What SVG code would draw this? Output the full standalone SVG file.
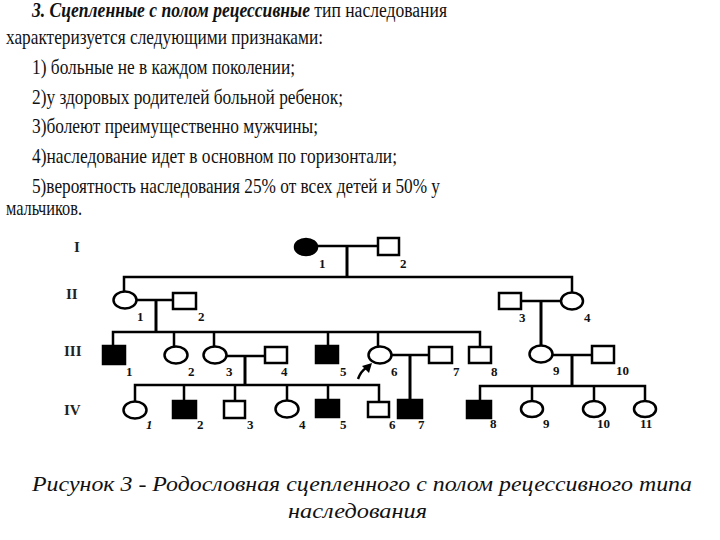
<svg xmlns="http://www.w3.org/2000/svg" width="720" height="540" viewBox="0 0 720 540">
<style>
.t{font-family:"Liberation Serif","DejaVu Serif",serif;font-size:22px;fill:#111}
.t1{font-size:20px}
.bi{font-weight:bold;font-style:italic}
.cap{font-family:"Liberation Serif","DejaVu Serif",serif;font-size:21px;font-style:italic;fill:#111}
.sym{fill:#fff;stroke:#000;stroke-width:2.5}
.aff{fill:#000;stroke:#000;stroke-width:2.5}
.ln{fill:none;stroke:#000;stroke-width:2.5}
.thk{fill:none;stroke:#000;stroke-width:3}
.lb{font-family:"Liberation Serif","DejaVu Serif",serif;font-size:13px;font-weight:bold;fill:#111}
.gen{font-family:"Liberation Serif","DejaVu Serif",serif;font-size:15px;font-weight:bold;fill:#222}
</style>
<rect width="720" height="540" fill="#fff"/>
<g id="text">
<text class="t t1" x="32" y="17" textLength="415" lengthAdjust="spacingAndGlyphs"><tspan class="bi">3. Сцепленные с полом рецессивные</tspan> тип наследования</text>
<text class="t" x="6" y="44" textLength="317" lengthAdjust="spacingAndGlyphs">характеризуется следующими признаками:</text>
<text class="t" x="32" y="74" textLength="263" lengthAdjust="spacingAndGlyphs">1) больные не в каждом поколении;</text>
<text class="t" x="32" y="104" textLength="311" lengthAdjust="spacingAndGlyphs">2)у здоровых родителей больной ребенок;</text>
<text class="t" x="32" y="133" textLength="286" lengthAdjust="spacingAndGlyphs">3)болеют преимущественно мужчины;</text>
<text class="t" x="32" y="163" textLength="365" lengthAdjust="spacingAndGlyphs">4)наследование идет в основном по горизонтали;</text>
<text class="t" x="32" y="193" textLength="408" lengthAdjust="spacingAndGlyphs">5)вероятность наследования 25% от всех детей и 50% у</text>
<text class="t" x="6" y="215" textLength="76" lengthAdjust="spacingAndGlyphs">мальчиков.</text>
</g>
<g id="generations">
<text class="gen" x="74" y="252">I</text>
<text class="gen" x="66" y="299">II</text>
<text class="gen" x="64" y="356">III</text>
<text class="gen" x="64" y="415">IV</text>
</g>
<g id="connectors">
<path class="ln" d="M317.5 246H378"/>
<path class="thk" d="M347 246V277"/>
<path class="ln" d="M124 291.5V277H572V292.5"/>
<path class="ln" d="M136.5 300H173"/>
<path class="thk" d="M156 300V332"/>
<path class="ln" d="M113 346V332H480V347M174 332V346.5M214 332V346.5M328 332V345M378 332V346.5"/>
<path class="ln" d="M521 301H560.5"/>
<path class="thk" d="M541 301V345.5"/>
<path class="ln" d="M226.5 356H265"/>
<path class="thk" d="M245 356V385"/>
<path class="ln" d="M135 401.5V385H379V402M184 385V401M235 385V401M287 385V400.5M328 385V400"/>
<path class="ln" d="M391.5 355H429"/>
<path class="thk" d="M410 355V400"/>
<path class="ln" d="M552.5 355H592"/>
<path class="thk" d="M572 355V386"/>
<path class="ln" d="M480 401V386H645V400.5M532 386V400.5M594 386V400.5"/>
</g>
<g id="proband-arrow">
<path d="M358 379Q361 371 366 368" fill="none" stroke="#000" stroke-width="2.5"/>
<polygon points="372,363 362,366 369,373" fill="#000"/>
</g>
<g id="I-1"><ellipse class="aff" cx="306" cy="247" rx="11" ry="8"/><text class="lb" x="319" y="268">1</text></g>
<g id="I-2"><rect class="sym" x="378" y="238" width="21" height="17"/><text class="lb" x="400" y="268">2</text></g>
<g id="II-1"><ellipse class="sym" cx="125" cy="300" rx="11.5" ry="8.5"/><text class="lb" x="137" y="321">1</text></g>
<g id="II-2"><rect class="sym" x="173" y="293" width="23" height="16"/><text class="lb" x="198" y="321">2</text></g>
<g id="II-3"><rect class="sym" x="499" y="293" width="22" height="16"/><text class="lb" x="519" y="322">3</text></g>
<g id="II-4"><ellipse class="sym" cx="572" cy="301" rx="11" ry="8.5"/><text class="lb" x="584" y="322">4</text></g>
<g id="III-1"><rect class="aff" x="103" y="346" width="22" height="18"/><text class="lb" x="126" y="376">1</text></g>
<g id="III-2"><ellipse class="sym" cx="176" cy="355" rx="11.5" ry="8.5"/><text class="lb" x="188" y="376">2</text></g>
<g id="III-3"><ellipse class="sym" cx="215" cy="355" rx="11.5" ry="8.5"/><text class="lb" x="226" y="376">3</text></g>
<g id="III-4"><rect class="sym" x="265" y="347" width="22" height="16"/><text class="lb" x="281" y="376">4</text></g>
<g id="III-5"><rect class="aff" x="316" y="346" width="22" height="17"/><text class="lb" x="340" y="376">5</text></g>
<g id="III-6"><ellipse class="sym" cx="380" cy="355" rx="11.5" ry="8.5"/><text class="lb" x="391" y="376">6</text></g>
<g id="III-7"><rect class="sym" x="429" y="347" width="23" height="16"/><text class="lb" x="453" y="376">7</text></g>
<g id="III-8"><rect class="sym" x="469" y="347" width="22" height="16"/><text class="lb" x="491" y="376">8</text></g>
<g id="III-9"><ellipse class="sym" cx="541" cy="354" rx="11.5" ry="8.5"/><text class="lb" x="553" y="375">9</text></g>
<g id="III-10"><rect class="sym" x="592" y="346" width="22" height="17"/><text class="lb" x="616" y="375">10</text></g>
<g id="IV-1"><ellipse class="sym" cx="135" cy="410" rx="11.5" ry="8.5"/><text class="lb" x="146" y="429" font-style="italic">1</text></g>
<g id="IV-2"><rect class="aff" x="173" y="401" width="23" height="17"/><text class="lb" x="197" y="429">2</text></g>
<g id="IV-3"><rect class="sym" x="224" y="401" width="21" height="17"/><text class="lb" x="247" y="429">3</text></g>
<g id="IV-4"><ellipse class="sym" cx="287" cy="409" rx="11.5" ry="8.5"/><text class="lb" x="299" y="429">4</text></g>
<g id="IV-5"><rect class="aff" x="316" y="400" width="23" height="17"/><text class="lb" x="340" y="429">5</text></g>
<g id="IV-6"><rect class="sym" x="368" y="402" width="21" height="15"/><text class="lb" x="389" y="429">6</text></g>
<g id="IV-7"><rect class="aff" x="398" y="400" width="24" height="18"/><text class="lb" x="418" y="429">7</text></g>
<g id="IV-8"><rect class="aff" x="467" y="401" width="24" height="17"/><text class="lb" x="490" y="428">8</text></g>
<g id="IV-9"><ellipse class="sym" cx="532" cy="409" rx="11" ry="8"/><text class="lb" x="543" y="428">9</text></g>
<g id="IV-10"><ellipse class="sym" cx="594" cy="409" rx="11" ry="8"/><text class="lb" x="597" y="428">10</text></g>
<g id="IV-11"><ellipse class="sym" cx="645" cy="409" rx="11" ry="8"/><text class="lb" x="640" y="428">11</text></g>
<g id="caption">
<text class="cap" x="32" y="491" textLength="660" lengthAdjust="spacingAndGlyphs">Рисунок 3 - Родословная сцепленного с полом рецессивного типа</text>
<text class="cap" x="288" y="518" textLength="139" lengthAdjust="spacingAndGlyphs">наследования</text>
</g>
</svg>
